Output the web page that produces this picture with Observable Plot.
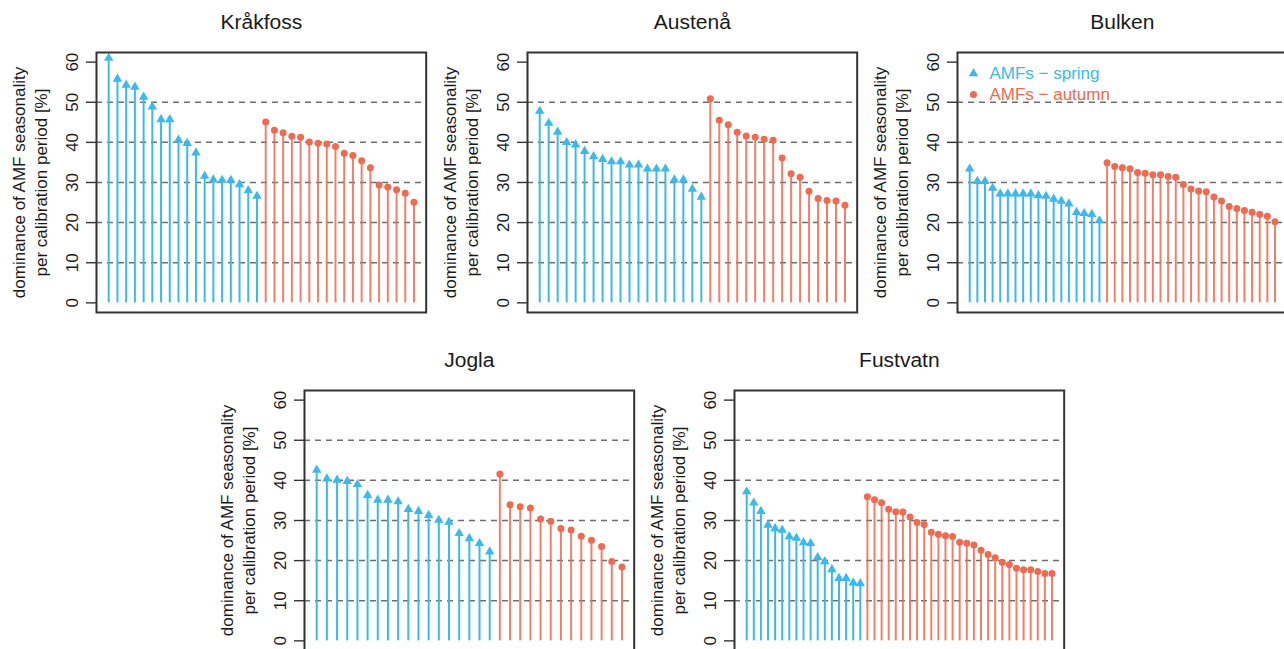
<!DOCTYPE html>
<html>
<head>
<meta charset="utf-8">
<script src="https://cdn.jsdelivr.net/npm/d3@7"></script>
<script src="https://cdn.jsdelivr.net/npm/@observablehq/plot@0.6"></script>
<style>
  html, body { margin: 0; padding: 0; background: #fff; overflow: hidden; }
  #root { position: relative; width: 1284px; height: 649px; overflow: hidden; font-family: "Liberation Sans", Arial, sans-serif; }
  #root svg { position: absolute; overflow: visible; }
</style>
</head>
<body>
<div id="root"></div>
<script>
// ---- data ----
const stations = ["Kråkfoss", "Austenå", "Bulken", "Jogla", "Fustvatn"];

const krakfossSpring = [61.0, 55.8, 54.3, 53.8, 51.3, 48.9, 45.7, 45.7, 40.6, 39.8, 37.4, 31.6, 30.7, 30.6, 30.6, 29.5, 28.0, 26.6];
const krakfossAutumn = [45.1, 43.0, 42.4, 41.5, 41.3, 40.1, 39.8, 39.6, 39.0, 37.3, 36.7, 35.4, 33.7, 29.4, 28.9, 28.2, 27.3, 25.1];

const austenaSpring = [47.8, 44.8, 42.6, 40.0, 39.4, 37.8, 36.5, 35.8, 35.2, 35.2, 34.4, 34.4, 33.4, 33.4, 33.4, 30.7, 30.7, 28.4, 26.4];
const austenaAutumn = [50.9, 45.5, 44.4, 42.5, 41.6, 41.3, 40.8, 40.5, 36.1, 32.2, 31.3, 27.8, 26.0, 25.5, 25.4, 24.3];

const bulkenSpring = [33.4, 30.3, 30.3, 28.6, 27.2, 27.2, 27.2, 27.2, 27.2, 26.8, 26.6, 25.9, 25.4, 24.7, 22.6, 22.3, 22.1, 20.5];
const bulkenAutumn = [34.9, 34.0, 33.7, 33.4, 32.5, 32.3, 31.9, 31.9, 31.5, 31.3, 29.5, 28.4, 27.9, 27.7, 26.4, 25.4, 24.0, 23.5, 23.0, 22.6, 22.1, 21.6, 20.2];

const joglaSpring = [42.6, 40.4, 40.1, 39.8, 39.0, 36.3, 35.1, 35.1, 34.7, 32.8, 32.3, 31.3, 30.1, 29.6, 26.8, 25.5, 24.3, 22.2];
const joglaAutumn = [41.6, 33.9, 33.4, 33.1, 30.4, 29.8, 28.0, 27.6, 26.1, 25.1, 23.5, 19.8, 18.4];

const fustvatnSpring = [37.2, 34.4, 32.3, 28.9, 28.0, 27.6, 26.0, 25.6, 24.5, 24.3, 20.8, 19.8, 17.8, 15.6, 15.6, 14.5, 14.3];
const fustvatnAutumn = [35.9, 35.2, 34.4, 32.8, 32.2, 32.1, 30.9, 29.5, 29.0, 27.1, 26.6, 26.2, 26.0, 24.6, 24.3, 23.9, 22.6, 21.5, 20.7, 19.6, 19.0, 18.1, 17.7, 17.7, 17.3, 16.8, 16.8];

const yTicks = [0, 10, 20, 30, 40, 50, 60];
const gridLines = [10, 20, 30, 40, 50];
const yTitle1 = "dominance of AMF seasonality";
const yTitle2 = "per calibration period [%]";
const legendLabels = ["AMFs − spring", "AMFs − autumn"];

// ---- styling ----
const BLUE = "#3cb9ea";
const RED = "#ee6a50";
const FONT = "'Liberation Sans', Arial, sans-serif";

const FW = 329.7, FH = 260;
const mL = 100, mT = 60, mR = 8, mB = 12;

function panel(name, spring, autumn, frameLeft, frameTop, withLegend) {
  const n = spring.length + autumn.length;
  const sp = spring.map((v, i) => ({ i: i + 1, v }));
  const au = autumn.map((v, i) => ({ i: spring.length + i + 1, v }));
  const pad = 0.04 * (n - 1);
  const marks = [
    Plot.ruleY(gridLines, { y: d => d, stroke: "#6e6e6e", strokeWidth: 1.5, strokeDasharray: "6,5" }),
    Plot.ruleX(sp, { x: "i", y1: 0, y2: "v", stroke: BLUE, strokeWidth: 2 }),
    Plot.ruleX(au, { x: "i", y1: 0, y2: "v", stroke: RED, strokeWidth: 2, strokeOpacity: 0.85 }),
    Plot.dot(sp, { x: "i", y: "v", symbol: "triangle", r: 3.5, fill: BLUE, stroke: "none" }),
    Plot.dot(au, { x: "i", y: "v", r: 3.5, fill: RED, stroke: "none" }),
    Plot.frame({ stroke: "#333", strokeWidth: 2 }),
    Plot.axisY(yTicks, { tickSize: 10, tickFormat: () => "", label: null, stroke: "#333", strokeWidth: 1.4 }),
    Plot.text(yTicks, { y: d => d, text: d => String(d), frameAnchor: "left", dx: -24, rotate: -90,
      textAnchor: "middle", lineAnchor: "middle", fontSize: 17, fill: "#1a1a1a", fontFamily: FONT }),
    Plot.text([30], { y: d => d, text: () => yTitle1, frameAnchor: "left", dx: -77, rotate: -90,
      textAnchor: "middle", lineAnchor: "middle", fontSize: 17, fill: "#1a1a1a", fontFamily: FONT }),
    Plot.text([30], { y: d => d, text: () => yTitle2, frameAnchor: "left", dx: -55, rotate: -90,
      textAnchor: "middle", lineAnchor: "middle", fontSize: 17, fill: "#1a1a1a", fontFamily: FONT }),
    Plot.text([name], { text: d => d, frameAnchor: "top", dy: -30, lineAnchor: "middle",
      fontSize: 21, fill: "#1a1a1a", fontFamily: FONT })
  ];
  if (withLegend) {
    marks.push(
      Plot.dot([0], { frameAnchor: "top-left", dx: 16, dy: 21, symbol: "triangle", r: 3.5, fill: BLUE }),
      Plot.dot([0], { frameAnchor: "top-left", dx: 16, dy: 42, r: 3.5, fill: RED }),
      Plot.text([legendLabels[0]], { text: d => d, frameAnchor: "top-left", dx: 32, dy: 21, textAnchor: "start",
        lineAnchor: "middle", fontSize: 17, fill: BLUE, fontFamily: FONT }),
      Plot.text([legendLabels[1]], { text: d => d, frameAnchor: "top-left", dx: 32, dy: 42, textAnchor: "start",
        lineAnchor: "middle", fontSize: 17, fill: RED, fontFamily: FONT })
    );
  }
  const svg = Plot.plot({
    width: mL + FW + mR,
    height: mT + FH + mB,
    marginLeft: mL, marginRight: mR, marginTop: mT, marginBottom: mB,
    x: { domain: [1 - pad, n + pad], axis: null, label: null },
    y: { domain: [-2.4, 62.4], label: null },
    style: { background: "transparent", fontFamily: FONT, overflow: "visible" },
    marks
  });
  svg.style.left = (frameLeft - mL) + "px";
  svg.style.top = (frameTop - mT) + "px";
  document.getElementById("root").appendChild(svg);
}

panel(stations[0], krakfossSpring, krakfossAutumn, 96, 52, false);
panel(stations[1], austenaSpring, austenaAutumn, 526.5, 52, false);
panel(stations[2], bulkenSpring, bulkenAutumn, 956.7, 52, true);
panel(stations[3], joglaSpring, joglaAutumn, 304, 390.4, false);
panel(stations[4], fustvatnSpring, fustvatnAutumn, 734, 390.4, false);
</script>
</body>
</html>
